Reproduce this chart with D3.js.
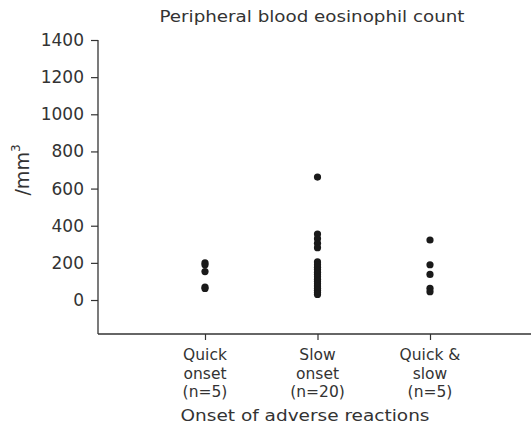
<!DOCTYPE html>
<html>
<head>
<meta charset="utf-8">
<script src="https://d3js.org/d3.v7.min.js"></script>
<style>
  body { margin: 0; background: #fff; }
  text { font-family: "DejaVu Sans", "Liberation Sans", sans-serif; fill: #333; }
</style>
</head>
<body>
<div id="chart"></div>
<script>
// categories and their multi-line labels
var categories = ["quick", "slow", "both"];
var catLabels = [["Quick", "onset", "(n=5)"], ["Slow", "onset", "(n=20)"], ["Quick &", "slow", "(n=5)"]];

// eosinophil counts per group (/mm3)
var quickOnset = [200, 190, 153, 70, 62];
var slowOnset = [662, 355, 330, 305, 282, 205, 190, 176, 164, 150, 138, 125, 112, 100, 88, 76, 64, 52, 40, 30];
var quickAndSlow = [323, 190, 138, 63, 45];

var yTicks = [0, 200, 400, 600, 800, 1000, 1200, 1400];

var groups = [quickOnset, slowOnset, quickAndSlow];

var width = 531, height = 439;

var svg = d3.select("#chart")
  .append("svg")
    .attr("width", width)
    .attr("height", height);

var x = d3.scalePoint()
  .domain(categories)
  .range([205, 430]);

var y = d3.scaleLinear()
  .domain([-183, 1400])
  .range([334, 40]);

// title
svg.append("text")
  .attr("x", 312)
  .attr("y", 22)
  .attr("text-anchor", "middle")
  .style("font-size", "16px")
  .attr("textLength", 305)
  .attr("lengthAdjust", "spacingAndGlyphs")
  .text("Peripheral blood eosinophil count");

// y axis
var yAxis = svg.append("g")
  .attr("transform", "translate(98,0)")
  .call(d3.axisLeft(y).tickValues(yTicks).tickSize(7).tickSizeOuter(0).tickFormat(d3.format("d")));
yAxis.select(".domain").remove();
yAxis.selectAll("line").attr("stroke", "#333").attr("stroke-width", 1.2);
yAxis.selectAll("text")
  .style("font-size", "17px")
  .attr("fill", "#333")
  .attr("x", -14);
svg.append("line")
  .attr("x1", 98).attr("x2", 98)
  .attr("y1", y(1400)).attr("y2", 334)
  .attr("stroke", "#333").attr("stroke-width", 1.3);

// x axis
var xAxis = svg.append("g")
  .attr("transform", "translate(0,334)")
  .call(d3.axisBottom(x).tickSize(6).tickFormat(""));
xAxis.select(".domain").remove();
xAxis.selectAll("line").attr("stroke", "#333").attr("stroke-width", 1.2);
svg.append("line")
  .attr("x1", 98).attr("x2", 531)
  .attr("y1", 334).attr("y2", 334)
  .attr("stroke", "#333").attr("stroke-width", 1.3);

// category labels
categories.forEach(function(c, i) {
  var t = svg.append("text")
    .attr("text-anchor", "middle")
    .style("font-size", "15.5px");
  catLabels[i].forEach(function(line, j) {
    t.append("tspan")
      .attr("x", x(c))
      .attr("y", 360 + j * 18.5)
      .text(line);
  });
});

svg.append("text")
  .attr("x", 305)
  .attr("y", 421)
  .attr("text-anchor", "middle")
  .style("font-size", "16px")
  .attr("textLength", 249)
  .attr("lengthAdjust", "spacingAndGlyphs")
  .text("Onset of adverse reactions");

// y label
var yl = svg.append("text")
  .attr("transform", "translate(29,170) rotate(-90)")
  .attr("text-anchor", "middle")
  .style("font-size", "19px");
yl.append("tspan").text("/mm");
yl.append("tspan").attr("dy", -9).style("font-size", "12px").text("3");

// points
groups.forEach(function(vals, i) {
  svg.selectAll(null)
    .data(vals)
    .enter()
    .append("circle")
      .attr("cx", x(categories[i]))
      .attr("cy", function(d) { return y(d); })
      .attr("r", 3.6)
      .attr("fill", "#1a1a1a");
});
</script>
</body>
</html>
